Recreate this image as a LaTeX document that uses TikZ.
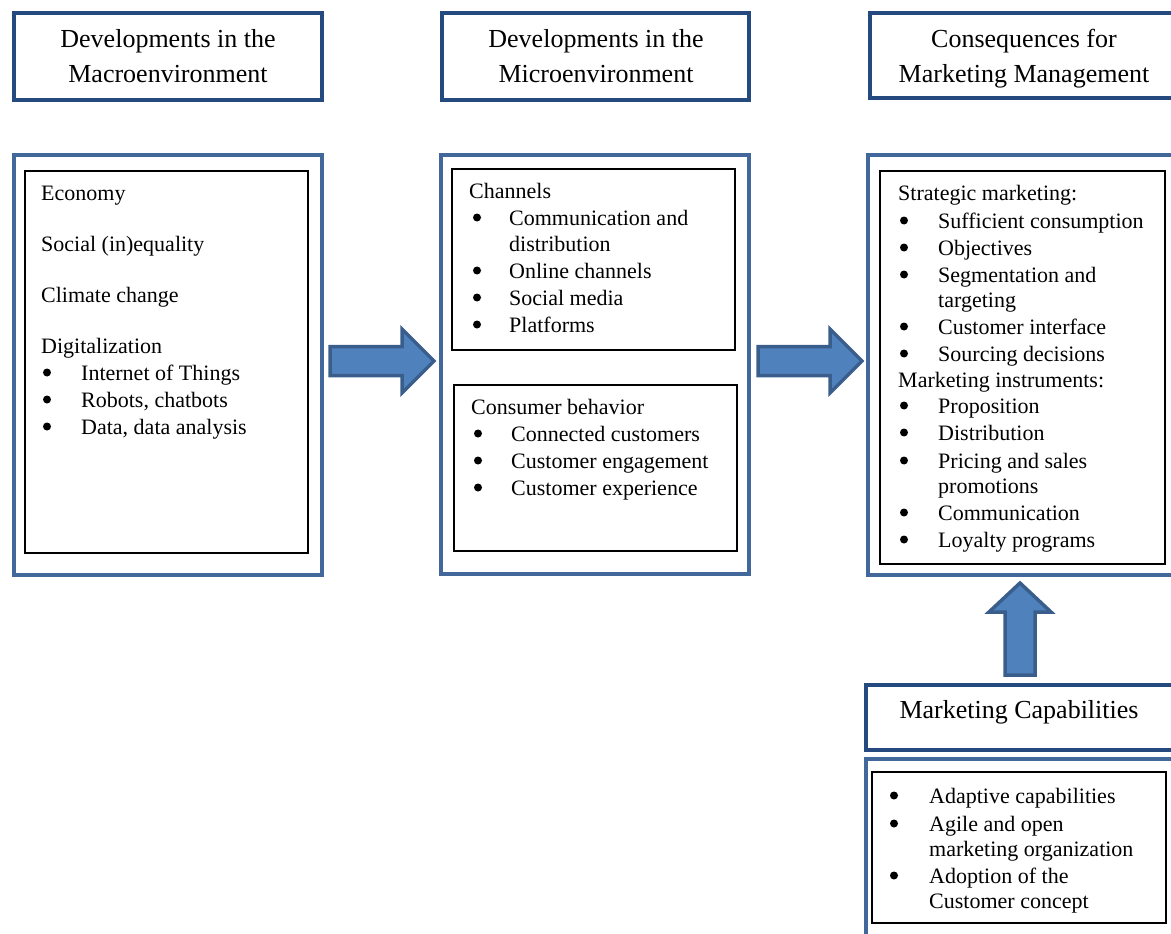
\documentclass[tikz,border=0pt]{standalone}
\usepackage{fontspec}
\setmainfont{Liberation Serif}
\definecolor{headblue}{RGB}{37,74,128}
\definecolor{frameblue}{RGB}{66,103,154}
\definecolor{arrowfill}{RGB}{79,129,189}
\definecolor{arrowline}{RGB}{58,94,140}
\tikzset{
  box/.style 2 args={anchor=north west, minimum width=#1pt, minimum height=#2pt, inner sep=0pt, outer sep=0pt},
  headbox/.style={draw=headblue, line width=4.5pt},
  framebox/.style={draw=frameblue, line width=3.5pt},
  innerbox/.style={draw=black, line width=1.3pt},
  txt/.style={anchor=base west, inner sep=0pt, font=\fontsize{22}{27}\selectfont},
  headtxt/.style={anchor=base, inner sep=0pt, font=\fontsize{26}{34}\selectfont},
  bul/.style={circle, fill=black, inner sep=0pt, minimum size=8pt},
  blockarrow/.style={fill=arrowfill, draw=arrowline, line width=3.5pt, line join=miter},
}
\begin{document}
\begin{tikzpicture}[x=1pt,y=-1pt]
\useasboundingbox (0,0) rectangle (1171,934);
\clip (0,0) rectangle (1171,934);

% column headings
\node[headbox, box={308}{87}] (h1) at (14,13) {};
\node[headbox, box={307}{87}] (h2) at (442,13) {};
\node[headbox, box={340}{85}] (h3) at (870,13) {};
\node[headtxt] (h1a) at (168,48) {Developments in the};
\node[headtxt] (h1b) at (168,82) {Macroenvironment};
\node[headtxt] (h2a) at (596,48) {Developments in the};
\node[headtxt] (h2b) at (596,82) {Microenvironment};
\node[headtxt] (h3a) at (1024,48) {Consequences for};
\node[headtxt] (h3b) at (1024,82) {Marketing Management};

% column frames and content boxes
\node[framebox, box={308}{420}] (f1) at (14,155) {};
\node[framebox, box={308}{419}] (f2) at (441,155) {};
\node[framebox, box={340}{420}] (f3) at (868,155) {};
\node[innerbox, box={283}{382}] (i1) at (25,171) {};
\node[innerbox, box={283}{181}] (i2a) at (452,169) {};
\node[innerbox, box={283}{166}] (i2b) at (454,385) {};
\node[innerbox, box={285}{393}] (i3) at (880,171) {};

% marketing capabilities
\node[headbox, box={340}{65}] (h4) at (866,685) {};
\node[framebox, box={340}{250}] (f4) at (866,759) {};
\node[innerbox, box={294}{151}] (i4) at (872,772) {};
\node[headtxt] (h4a) at (1019,718) {Marketing Capabilities};

% block arrows
\draw[blockarrow] (330,346.5) -- (402,346.5) -- (402,329) -- (434,361) -- (402,393) -- (402,375.5) -- (330,375.5) -- cycle;
\draw[blockarrow] (758,346.5) -- (830,346.5) -- (830,329) -- (862,361) -- (830,393) -- (830,375.5) -- (758,375.5) -- cycle;
\draw[blockarrow] (1005,675) -- (1005,612) -- (989,612) -- (1020,583) -- (1051,612) -- (1035,612) -- (1035,675) -- cycle;

% macroenvironment
\node[txt] (m1) at (41,200) {Economy};
\node[txt] (m2) at (41,251) {Social (in)equality};
\node[txt] (m3) at (41,302) {Climate change};
\node[txt] (m4) at (41,353) {Digitalization};
\foreach \n/\y/\t in {1/380/{Internet of Things}, 2/407/{Robots, chatbots}, 3/434/{Data, data analysis}}{
  \node[bul] (mb\n) at (47,{\y-7.5}) {};
  \node[txt] (mi\n) at (81,\y) {\t};
}

% microenvironment: channels
\node[txt] (c0) at (469,198) {Channels};
\foreach \n/\y/\t in {1/225/{Communication and}, 2/278/{Online channels}, 3/305/{Social media}, 4/332/{Platforms}}{
  \node[bul] (cb\n) at (477,{\y-7.5}) {};
  \node[txt] (ci\n) at (509,\y) {\t};
}
\node[txt] (ci1b) at (509,251) {distribution};

% microenvironment: consumer behavior
\node[txt] (k0) at (471,414) {Consumer behavior};
\foreach \n/\y/\t in {1/441/{Connected customers}, 2/468/{Customer engagement}, 3/495/{Customer experience}}{
  \node[bul] (kb\n) at (478,{\y-7.5}) {};
  \node[txt] (ki\n) at (511,\y) {\t};
}

% consequences
\node[txt] (s0) at (898,200) {Strategic marketing:};
\foreach \n/\y/\t in {1/228/{Sufficient consumption}, 2/255/{Objectives}, 3/282/{Segmentation and}, 4/334/{Customer interface}, 5/361/{Sourcing decisions}}{
  \node[bul] (sb\n) at (904,{\y-7.5}) {};
  \node[txt] (si\n) at (938,\y) {\t};
}
\node[txt] (si3b) at (938,307) {targeting};
\node[txt] (p0) at (898,387) {Marketing instruments:};
\foreach \n/\y/\t in {1/413/{Proposition}, 2/440/{Distribution}, 3/468/{Pricing and sales}, 4/520/{Communication}, 5/547/{Loyalty programs}}{
  \node[bul] (pb\n) at (904,{\y-7.5}) {};
  \node[txt] (pi\n) at (938,\y) {\t};
}
\node[txt] (pi3b) at (938,493) {promotions};

% capabilities
\node[bul] (qb1) at (894,795.5) {};
\node[txt] (qi1) at (929,803) {Adaptive capabilities};
\node[bul] (qb2) at (894,823.5) {};
\node[txt] (qi2) at (929,831) {Agile and open};
\node[txt] (qi2b) at (929,856) {marketing organization};
\node[bul] (qb3) at (894,875.5) {};
\node[txt] (qi3) at (929,883) {Adoption of the};
\node[txt] (qi3b) at (929,908) {Customer concept};
\end{tikzpicture}
\end{document}
